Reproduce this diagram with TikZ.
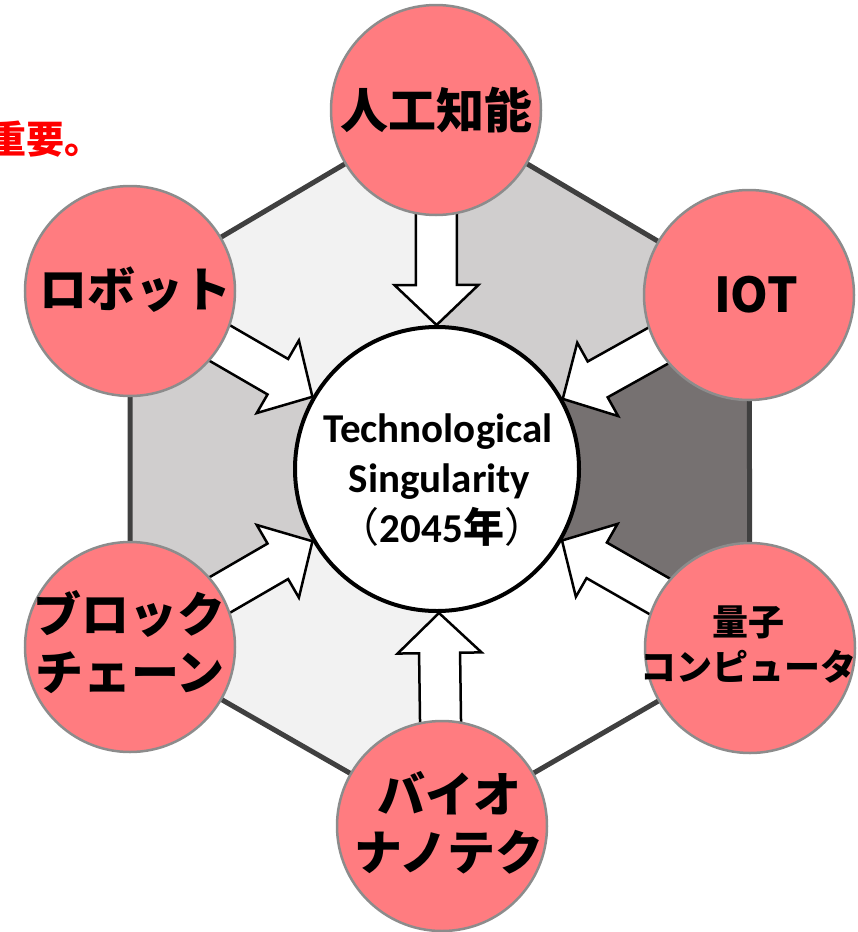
\documentclass[tikz,border=0pt]{standalone}
\usepackage{fontspec}
\setmainfont{Carlito}
\newfontfamily\jp{Noto Sans CJK JP}
\usetikzlibrary{calc,backgrounds}
\definecolor{pinkfill}{HTML}{FF7C80}
\definecolor{ringgray}{HTML}{8C8C8C}
\definecolor{hexline}{HTML}{404040}
\definecolor{segA}{HTML}{F2F2F2}
\definecolor{segB}{HTML}{D0CECE}
\definecolor{segC}{HTML}{767171}
\begin{document}
\begin{tikzpicture}[x=1pt,y=-1pt,
  outer/.style={circle, fill=pinkfill, draw=ringgray, line width=2.5pt, minimum size=210pt, inner sep=0pt},
  core/.style={circle, fill=white, draw=black, line width=4pt, minimum size=284pt, inner sep=0pt},
  lbl/.style={font=\jp\bfseries\fontsize{48}{58}\selectfont, align=center, inner sep=0pt},
  smalllbl/.style={font=\jp\bfseries\fontsize{36}{45}\selectfont, align=center, inner sep=0pt},
  coretext/.style={font=\bfseries\fontsize{41}{48}\selectfont, anchor=base, inner sep=0pt},
  blockarrow/.style={fill=white, draw=black, line width=2.5pt, line join=miter},
  hexedge/.style={draw=hexline, line width=5pt}
]
\useasboundingbox (0,0) rectangle (858,932);

% outer circles and core
\node[outer] (ai)  at (436,110) {};
\node[outer] (rb)  at (130,291) {};
\node[outer] (iot) at (749,295) {};
\node[outer] (bc)  at (130,647) {};
\node[outer] (qc)  at (750,648) {};
\node[outer] (bio) at (442,826) {};
\node[core]  (c)   at (437,469) {};

% labels
\node[lbl] (ait)  at (436,110) {人工知能};
\node[lbl] (rbt)  at (135,290) {ロボット};
\node[lbl] (iott) at (756,295) {IOT};
\node[lbl] (bct)  at (130,642) {ブロック\\チェーン};
\node[smalllbl] (qct) at (748,645) {量子\\コンピュータ};
\node[lbl] (biot) at (449,823) {バイオ\\ナノテク};

\node[coretext] (t1) at (438,442) {Technological};
\node[coretext] (t2) at (439.5,492) {Singularity};
\node[coretext] (t3) at (442,542) {{\jp\mdseries （}2045{\jp\bfseries 年}{\jp\mdseries ）}};

\node[font=\jp\bfseries\fontsize{38}{40}\selectfont, text=red, anchor=east, inner sep=0pt] (note) at (103,139) {重要。};

\begin{pgfonlayer}{background}
  \fill[segA] (c.center) -- (ai.center) -- (rb.center) -- cycle;
  \fill[segB] (c.center) -- (ai.center) -- (iot.center) -- cycle;
  \fill[segC] (c.center) -- (iot.center) -- (qc.center) -- cycle;
  \fill[white] (c.center) -- (qc.center) -- (bio.center) -- cycle;
  \fill[segA] (c.center) -- (bio.center) -- (bc.center) -- cycle;
  \fill[segB] (c.center) -- (bc.center) -- (rb.center) -- cycle;
  \draw[hexedge] (ai.center) -- (iot.center) -- (qc.center) -- (bio.center) -- (bc.center) -- (rb.center) -- cycle;
  \foreach \s in {ai,rb,iot,bc,qc,bio} {
    \draw[blockarrow] let \p1=(\s.center), \p2=(c.center), \n1={atan2(\y1-\y2,\x1-\x2)} in
      ($(c.center)+(\n1:144pt)$)
      -- ($(c.center)+(\n1:184pt)+(\n1+90:42pt)$)
      -- ($(c.center)+(\n1:184pt)+(\n1+90:20.5pt)$)
      -- ($(c.center)+(\n1:262pt)+(\n1+90:20.5pt)$)
      -- ($(c.center)+(\n1:262pt)+(\n1-90:20.5pt)$)
      -- ($(c.center)+(\n1:184pt)+(\n1-90:20.5pt)$)
      -- ($(c.center)+(\n1:184pt)+(\n1-90:42pt)$)
      -- cycle;
  }
\end{pgfonlayer}
\end{tikzpicture}
\end{document}
